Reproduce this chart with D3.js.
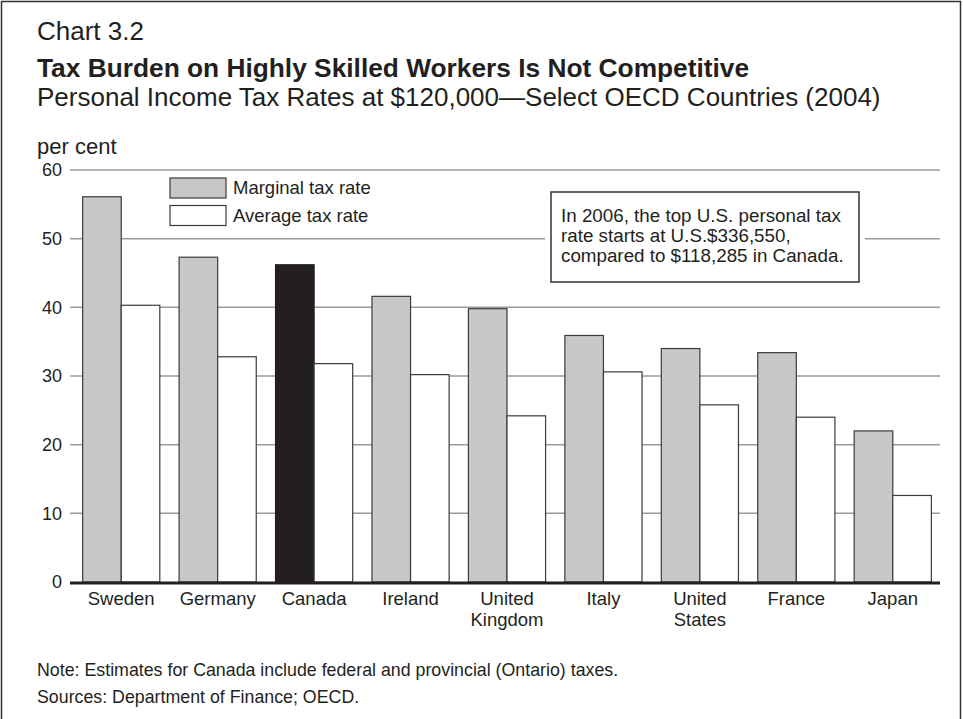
<!DOCTYPE html>
<html>
<head>
<meta charset="utf-8">
<script src="https://cdn.jsdelivr.net/npm/d3@7"></script>
<style>
  body { margin: 0; background: #fff; }
  svg text { font-family: "Liberation Sans", Arial, sans-serif; fill: #231f20; }
</style>
</head>
<body>
<svg id="chart" width="963" height="719"></svg>
<script>
// Personal income tax rates at $120,000, 2004 (per cent)
var countries = [["Sweden"], ["Germany"], ["Canada"], ["Ireland"], ["United", "Kingdom"],
                 ["Italy"], ["United", "States"], ["France"], ["Japan"]];
var marginal = [56.1, 47.3, 46.2, 41.6, 39.8, 35.9, 34.0, 33.4, 22.0];
var average = [40.3, 32.8, 31.8, 30.2, 24.2, 30.6, 25.8, 24.0, 12.6];
var yTicks = [0, 10, 20, 30, 40, 50, 60];
var highlight = "Canada";

var svg = d3.select('#chart');
var ink = '#231f20';

// frame
svg.append('rect')
    .attr('x', 1.5).attr('y', 1.5)
    .attr('width', 959).attr('height', 760)
    .attr('fill', 'none').attr('stroke', '#333').attr('stroke-width', 1.5);

// titles
svg.append('text').attr('x', 37).attr('y', 40).attr('font-size', 26).text('Chart 3.2');
svg.append('text').attr('x', 37).attr('y', 77).attr('font-size', 26.3).attr('font-weight', 'bold')
    .text('Tax Burden on Highly Skilled Workers Is Not Competitive');
svg.append('text').attr('x', 37).attr('y', 106).attr('font-size', 26)
    .text('Personal Income Tax Rates at $120,000\u2014Select OECD Countries (2004)');
svg.append('text').attr('x', 37).attr('y', 154).attr('font-size', 22).text('per cent');

var names = countries.map(function(d) { return d.join(' '); });

var x = d3.scaleBand()
    .domain(names)
    .range([73, 941])
    .paddingInner(0.2)
    .paddingOuter(0.1);

var y = d3.scaleLinear()
    .domain([0, 60])
    .range([582, 170]);

// gridlines
var grid = svg.append('g');
grid.selectAll('line')
    .data(yTicks.filter(function(d) { return d > 0; }))
    .enter().append('line')
    .attr('x1', 70).attr('x2', 940)
    .attr('y1', function(d) { return y(d); })
    .attr('y2', function(d) { return y(d); })
    .attr('stroke', '#9a9a9a').attr('stroke-width', 1.5);

// y axis labels
var yAxis = svg.append('g')
    .attr('transform', 'translate(62,0)')
    .call(d3.axisLeft(y).tickValues(yTicks).tickSize(0).tickPadding(0));
yAxis.select('.domain').remove();
yAxis.selectAll('text')
    .attr('font-size', 18)
    .attr('font-family', '"Liberation Sans", Arial, sans-serif')
    .attr('fill', ink);

// bars
var bw = x.bandwidth() / 2;
var groups = svg.append('g').selectAll('g')
    .data(names)
    .enter().append('g')
    .attr('transform', function(d) { return 'translate(' + x(d) + ',0)'; });

groups.append('rect')
    .attr('x', 0)
    .attr('width', bw)
    .attr('y', function(d, i) { return y(marginal[i]); })
    .attr('height', function(d, i) { return y(0) - y(marginal[i]); })
    .attr('fill', function(d) { return d === highlight ? ink : '#c7c8ca'; })
    .attr('stroke', function(d) { return d === highlight ? ink : '#3a3a3a'; })
    .attr('stroke-width', 1.2);

groups.append('rect')
    .attr('x', bw)
    .attr('width', bw)
    .attr('y', function(d, i) { return y(average[i]); })
    .attr('height', function(d, i) { return y(0) - y(average[i]); })
    .attr('fill', '#fff')
    .attr('stroke', '#3a3a3a')
    .attr('stroke-width', 1.2);

// baseline
svg.append('line')
    .attr('x1', 70).attr('x2', 940)
    .attr('y1', y(0) + 1).attr('y2', y(0) + 1)
    .attr('stroke', ink).attr('stroke-width', 3);

// category labels
var labels = svg.append('g').selectAll('text')
    .data(countries)
    .enter().append('text')
    .attr('text-anchor', 'middle')
    .attr('font-size', 18.5)
    .attr('x', function(d) { return x(d.join(' ')) + x.bandwidth() / 2; })
    .attr('y', 605);
labels.selectAll('tspan')
    .data(function(d) { return d; })
    .enter().append('tspan')
    .attr('x', function() { return d3.select(this.parentNode).attr('x'); })
    .attr('dy', function(d, i) { return i === 0 ? 0 : 20.5; })
    .text(function(d) { return d; });

// legend
var legend = [["Marginal tax rate", '#c7c8ca'], ["Average tax rate", '#fff']];
var lg = svg.append('g').selectAll('g')
    .data(legend)
    .enter().append('g')
    .attr('transform', function(d, i) { return 'translate(170,' + (178 + i * 27.5) + ')'; });
lg.append('rect')
    .attr('width', 56).attr('height', 20)
    .attr('fill', function(d) { return d[1]; })
    .attr('stroke', '#3a3a3a').attr('stroke-width', 1.2);
lg.append('text')
    .attr('x', 63).attr('y', 16)
    .attr('font-size', 18.5)
    .text(function(d) { return d[0]; });

// annotation box
var note = ["In 2006, the top U.S. personal tax", "rate starts at U.S.$336,550,", "compared to $118,285 in Canada."];
svg.append('rect')
    .attr('x', 545).attr('y', 186).attr('width', 320).attr('height', 102)
    .attr('fill', '#fff');
svg.append('rect')
    .attr('x', 551).attr('y', 192).attr('width', 308).attr('height', 90)
    .attr('fill', '#fff').attr('stroke', '#333').attr('stroke-width', 1.5);
svg.append('g').selectAll('text')
    .data(note)
    .enter().append('text')
    .attr('x', 561)
    .attr('y', function(d, i) { return 222 + i * 20; })
    .attr('font-size', 18.8)
    .text(function(d) { return d; });

// footer
svg.append('text').attr('x', 37).attr('y', 676).attr('font-size', 17.8)
    .text('Note: Estimates for Canada include federal and provincial (Ontario) taxes.');
svg.append('text').attr('x', 37).attr('y', 703).attr('font-size', 17.8)
    .text('Sources: Department of Finance; OECD.');
</script>
</body>
</html>
